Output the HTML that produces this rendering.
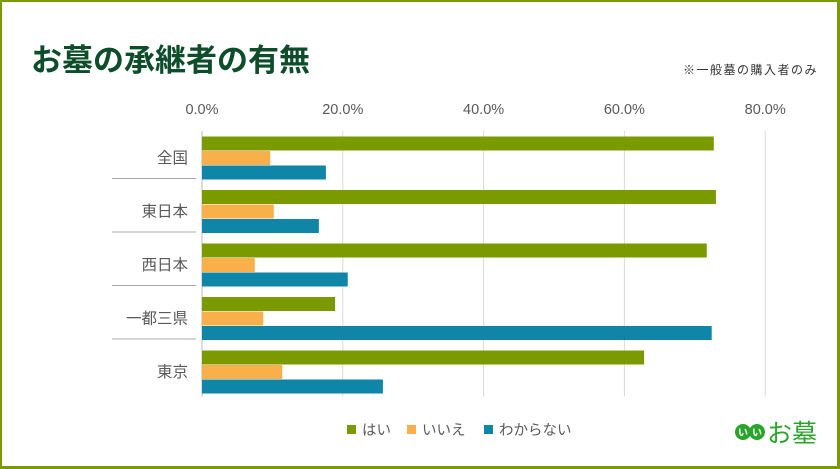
<!DOCTYPE html>
<html><head><meta charset="utf-8"><style>
html,body{margin:0;padding:0;}
body{width:840px;height:469px;overflow:hidden;background:#fff;font-family:"Liberation Sans","Noto Sans CJK JP",sans-serif;}
#frame{position:absolute;left:0;top:0;width:835px;height:464px;border:2px solid #7a9a00;border-right-width:3px;border-bottom-width:3px;box-sizing:content-box;}
</style></head><body>
<div id="frame"></div>
<svg id="c" width="840" height="469" style="position:absolute;left:0;top:0">
<text x="31" y="71" font-size="31" font-weight="bold" fill="#0d4d2a" font-family="Noto Sans CJK JP, sans-serif">お墓の承継者の有無</text>
<text x="818" y="74" font-size="12" letter-spacing="1.5" fill="#333" text-anchor="end" font-family="Noto Sans CJK JP, sans-serif">※一般墓の購入者のみ</text>
<g id="grid"></g><g id="bars"></g><g id="labels"></g><g id="legend"></g>
<g>
<circle cx="743" cy="432" r="8" fill="#2aa42a"/><circle cx="757" cy="432" r="8" fill="#2aa42a"/>
<text x="743" y="436" font-size="10" fill="#fff" text-anchor="middle" font-weight="bold" font-family="Noto Sans CJK JP, sans-serif">い</text>
<text x="757" y="436" font-size="10" fill="#fff" text-anchor="middle" font-weight="bold" font-family="Noto Sans CJK JP, sans-serif">い</text>
<text x="767" y="442" font-size="25" fill="#2aa42a" font-family="Noto Sans CJK JP, sans-serif">お墓</text>
</g>
</svg>
<script>
const categories=["全国","東日本","西日本","一都三県","東京"];
const seriesNames=["はい","いいえ","わからない"];
const yesVals=[72.7,73.0,71.7,18.9,62.8];
const noVals=[9.7,10.2,7.5,8.7,11.4];
const unknownVals=[17.6,16.6,20.7,72.4,25.7];
const ticks=[0,20,40,60,80];
const tickLabels=["0.0%","20.0%","40.0%","60.0%","80.0%"];
const colors=["#7a9a00","#f9b04b","#0f86a8"];
const NS="http://www.w3.org/2000/svg";
const x0=202,pxPer=7.04,top0=131,groupH=53.5,barH=14;
const xs=v=>x0+v*pxPer;
function mk(t,a,p){const e=document.createElementNS(NS,t);for(const k in a)e.setAttribute(k,a[k]);p.appendChild(e);return e;}
const grid=document.getElementById('grid'),bars=document.getElementById('bars'),labels=document.getElementById('labels'),legend=document.getElementById('legend');
ticks.forEach((t,i)=>{
 const l=mk('line',{x1:xs(t),x2:xs(t),y1:top0,y2:top0+groupH*5-2,stroke:i==0?'#bbb':'#d9d9d9','stroke-width':1},grid);
 
 
 const tx=mk('text',{x:xs(t),y:114,'font-size':14.5,fill:'#595959','text-anchor':'middle'},labels);
 tx.textContent=tickLabels[i];
 
 
});
const all=[yesVals,noVals,unknownVals];
categories.forEach((c,i)=>{
 const gy=top0+groupH*i;
 all.forEach((arr,s)=>{
  const r=mk('rect',{x:x0,y:gy+5.5+s*14.5,width:xs(arr[i])-x0,height:barH,fill:colors[s]},bars);
  
  
 });
 const t=mk('text',{x:188,y:gy+32,'font-size':15.5,fill:'#595959','text-anchor':'end'},labels);
 t.textContent=c;
 
 
 if(i<categories.length-1){
  const s=mk('line',{x1:112,x2:196,y1:gy+groupH-6,y2:gy+groupH-6,stroke:'#aaa','stroke-width':1},labels);
  
  
 }
});
const lx=[347,407,484];
seriesNames.forEach((n,s)=>{
 const r=mk('rect',{x:lx[s],y:425,width:9,height:9,fill:colors[s]},legend);
 
 
 const t=mk('text',{x:lx[s]+15,y:435,'font-size':14.5,fill:'#595959'},legend);
 t.textContent=n;
 
 
});
</script>
</body></html>
